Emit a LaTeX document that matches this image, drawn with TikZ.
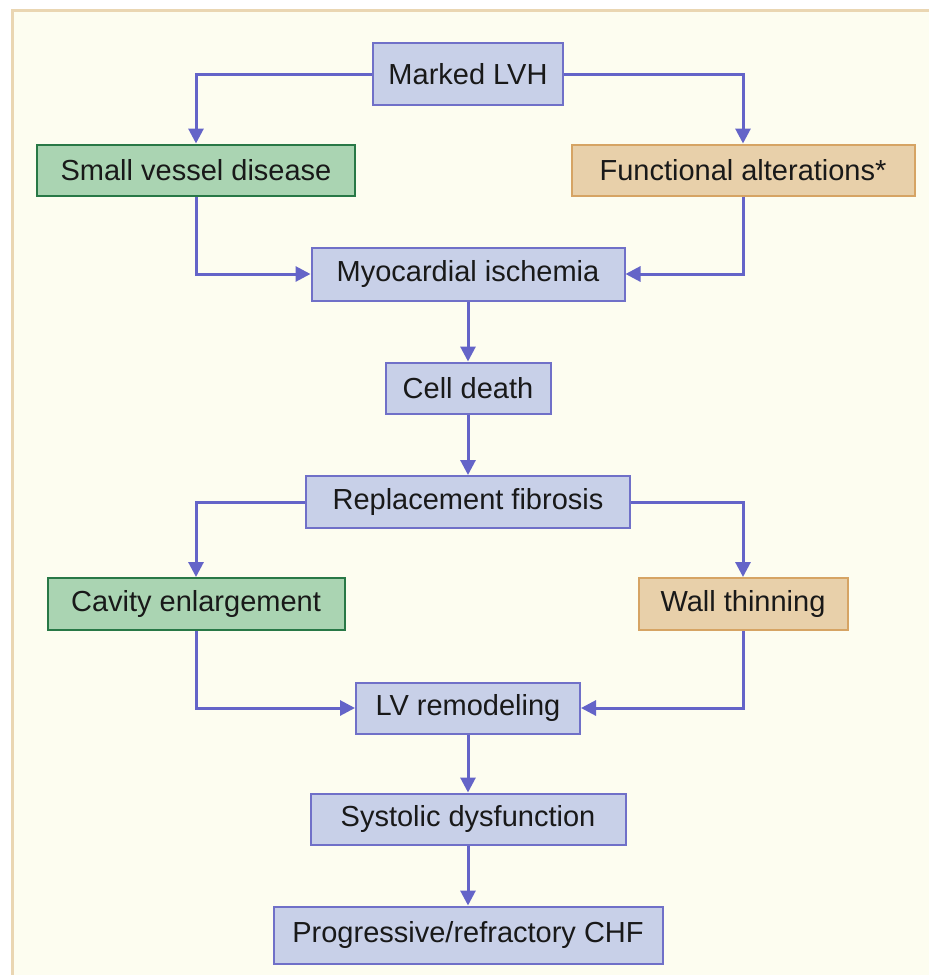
\documentclass[tikz,border=0pt]{standalone}
\usepackage{fontspec}
\setmainfont{Liberation Sans}
\usetikzlibrary{arrows.meta}
\definecolor{bluefill}{RGB}{200,208,232}
\definecolor{blueline}{RGB}{112,112,200}
\definecolor{greenfill}{RGB}{170,212,178}
\definecolor{greenline}{RGB}{40,120,70}
\definecolor{tanfill}{RGB}{232,208,170}
\definecolor{tanline}{RGB}{214,164,100}
\definecolor{arrowcol}{RGB}{100,100,200}
\definecolor{paper}{RGB}{253,253,240}
\definecolor{framecol}{RGB}{234,214,178}
\begin{document}
\begin{tikzpicture}[x=1pt,y=-1pt,
  box/.style={draw=blueline,fill=bluefill,line width=2pt,inner sep=0pt,
    font=\fontsize{29}{34}\selectfont,text=black!90},
  greenbox/.style={box,draw=greenline,fill=greenfill},
  tanbox/.style={box,draw=tanline,fill=tanfill},
  link/.style={draw=arrowcol,line width=3pt,-{Triangle[length=15pt,width=15pt]}}]
\useasboundingbox (0,0) rectangle (929,975);
\fill[paper] (12,10) rectangle (929,975);
\draw[framecol,line width=3pt] (12,975) -- (12,10) -- (929,10);

\node[box,minimum width=190pt,minimum height=62pt] (lvh) at (468,74) {Marked LVH};
\node[greenbox,minimum width=318pt,minimum height=51pt] (svd) at (196,170) {Small vessel disease};
\node[tanbox,minimum width=343pt,minimum height=51pt] (func) at (743,170) {Functional alterations*};
\node[box,minimum width=313pt,minimum height=53pt] (isch) at (468,274) {Myocardial ischemia};
\node[box,minimum width=165pt,minimum height=51pt] (cell) at (468,388) {Cell death};
\node[box,minimum width=324pt,minimum height=52pt] (fib) at (468,502) {Replacement fibrosis};
\node[greenbox,minimum width=297pt,minimum height=52pt] (cav) at (196,604) {Cavity enlargement};
\node[tanbox,minimum width=209pt,minimum height=52pt] (wall) at (743,604) {Wall thinning};
\node[box,minimum width=224pt,minimum height=51pt] (lvr) at (468,708) {LV remodeling};
\node[box,minimum width=315pt,minimum height=51pt] (sys) at (468,819) {Systolic dysfunction};
\node[box,minimum width=389pt,minimum height=57pt] (chf) at (468,935) {Progressive/refractory CHF};

\draw[link] (lvh.west) -| (svd.north);
\draw[link] (lvh.east) -| (func.north);
\draw[link] (svd.south) |- (isch.west);
\draw[link] (func.south) |- (isch.east);
\draw[link] (isch) -- (cell);
\draw[link] (cell) -- (fib);
\draw[link] (fib.west) -| (cav.north);
\draw[link] (fib.east) -| (wall.north);
\draw[link] (cav.south) |- (lvr.west);
\draw[link] (wall.south) |- (lvr.east);
\draw[link] (lvr) -- (sys);
\draw[link] (sys) -- (chf);
\end{tikzpicture}
\end{document}
